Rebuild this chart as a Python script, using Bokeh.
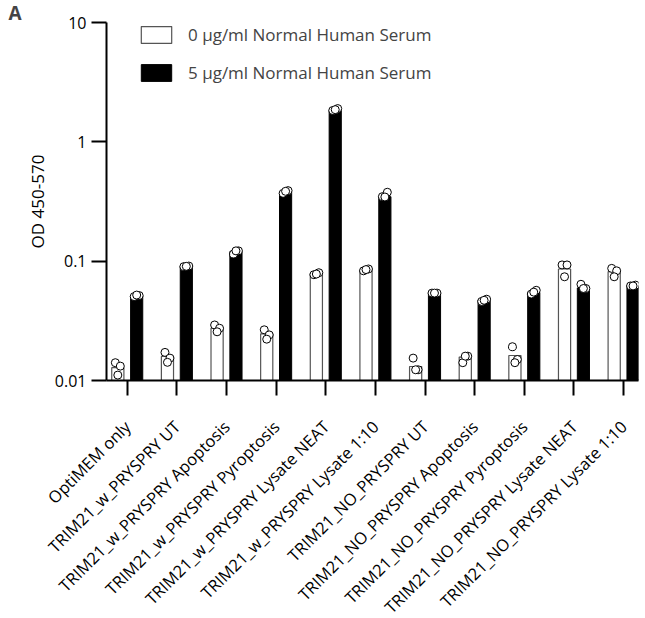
import numpy as np
from bokeh.plotting import figure
from bokeh.models import (Range1d, FixedTicker, NumeralTickFormatter, Legend,
                          LegendItem, ColumnDataSource)
from bokeh.embed import file_html
from bokeh.resources import INLINE

categories = [
    "OptiMEM only",
    "TRIM21_w_PRYSPRY UT",
    "TRIM21_w_PRYSPRY Apoptosis",
    "TRIM21_w_PRYSPRY Pyroptosis",
    "TRIM21_w_PRYSPRY Lysate NEAT",
    "TRIM21_w_PRYSPRY Lysate 1:10",
    "TRIM21_NO_PRYSPRY UT",
    "TRIM21_NO_PRYSPRY Apoptosis",
    "TRIM21_NO_PRYSPRY Pyroptosis",
    "TRIM21_NO_PRYSPRY Lysate NEAT",
    "TRIM21_NO_PRYSPRY Lysate 1:10",
]

# bar heights (mean OD)
mean_0 = [0.0128, 0.0159, 0.0274, 0.0246, 0.079, 0.0844, 0.0131, 0.0157, 0.0162, 0.086, 0.0817]
mean_5 = [0.0514, 0.0905, 0.120, 0.3815, 1.84, 0.347, 0.0538, 0.0473, 0.0548, 0.0597, 0.0624]

# replicate values
rep_0 = [
    [0.0141, 0.0132, 0.0111],
    [0.0172, 0.0154, 0.0142],
    [0.0292, 0.0274, 0.0256],
    [0.0266, 0.0241, 0.0222],
    [0.077, 0.080, 0.078],
    [0.083, 0.086, 0.085],
    [0.0154, 0.0123, 0.0123],
    [0.0141, 0.016, 0.016],
    [0.0192, 0.0150, 0.0141],
    [0.093, 0.093, 0.074],
    [0.087, 0.083, 0.074],
]
rep_5 = [
    [0.0505, 0.0515, 0.052],
    [0.090, 0.091, 0.0905],
    [0.115, 0.122, 0.122],
    [0.37, 0.39, 0.385],
    [1.83, 1.90, 1.86],
    [0.347, 0.378, 0.345],
    [0.054, 0.054, 0.054],
    [0.046, 0.048, 0.047],
    [0.053, 0.057, 0.055],
    [0.064, 0.059, 0.059],
    [0.062, 0.063, 0.062],
]

y_ticks = [0.01, 0.1, 1, 10]
legend_labels = ["0 µg/ml Normal Human Serum", "5 µg/ml Normal Human Serum"]

FONT = "Open Sans"
BAR_OFF = 0.19
BAR_W = 0.245
JIT = [-0.05, 0.05, 0.0]
X0, X1 = -0.418, 10.30

x = np.arange(len(categories))

p = figure(frame_width=532, frame_height=358,
           x_range=Range1d(X0, X1), y_range=Range1d(0.01, 10),
           y_axis_type="log", output_backend="svg", toolbar_location=None,
           min_border_left=106, min_border_top=22, min_border_right=7,
           min_border_bottom=10, title="A")

p.title.align = "left"
p.title.offset = -98
p.title.standoff = -7
p.title.text_font = FONT
p.title.text_font_style = "bold"
p.title.text_font_size = "19px"
p.title.vertical_align = "bottom"

src = ColumnDataSource(dict(x0=x - BAR_OFF, x5=x + BAR_OFF, m0=mean_0, m5=mean_5))
r0 = p.vbar(x="x0", top="m0", bottom=0.01, width=BAR_W, source=src,
            fill_color="white", line_color="#555555", line_width=1.2)
r5 = p.vbar(x="x5", top="m5", bottom=0.01, width=BAR_W, source=src,
            fill_color="black", line_color="black", line_width=1)

for k in range(3):
    p.scatter(x - BAR_OFF + JIT[k], [t[k] for t in rep_0], size=8,
              fill_color="white", line_color="black", line_width=1)
    p.scatter(x + BAR_OFF + JIT[k], [t[k] for t in rep_5], size=8,
              fill_color="white", line_color="black", line_width=1)

# axes
p.xaxis.ticker = FixedTicker(ticks=[int(i) for i in x])
p.xaxis.major_label_overrides = {int(i): c for i, c in zip(x, categories)}
p.xaxis.major_label_orientation = np.pi / 4
p.yaxis.ticker = FixedTicker(ticks=y_ticks)
p.yaxis.formatter = NumeralTickFormatter(format="0.[00]")
p.yaxis.axis_label = "OD 450-570"

for ax in (p.xaxis, p.yaxis):
    ax.axis_line_width = 2
    ax.axis_line_color = "black"
    ax.major_tick_line_width = 2
    ax.major_tick_line_color = "black"
    ax.major_tick_in = 0
    ax.major_tick_out = 15
    ax.minor_tick_line_color = None
    ax.major_label_text_font = FONT
    ax.major_label_text_color = "black"

p.xaxis.major_label_text_font_size = "16.5px"
p.xaxis.major_label_standoff = 28
p.yaxis.major_label_text_font_size = "16px"
p.yaxis.major_label_standoff = 5
p.yaxis.axis_label_text_font = FONT
p.yaxis.axis_label_text_font_size = "17px"
p.yaxis.axis_label_text_font_style = "normal"
p.yaxis.axis_label_text_color = "black"
p.yaxis.axis_label_standoff = 3

p.xgrid.visible = False
p.ygrid.visible = False
p.outline_line_color = None

legend = Legend(items=[LegendItem(label=legend_labels[0], renderers=[r0]),
                       LegendItem(label=legend_labels[1], renderers=[r5])],
                location=(31, 295), glyph_width=38, glyph_height=21,
                label_height=26, spacing=12, padding=0, margin=0,
                border_line_color=None, background_fill_alpha=0,
                label_standoff=13, label_text_font=FONT,
                label_text_font_size="17px")
p.add_layout(legend)

open("out.html", "w").write(file_html(p, INLINE))
